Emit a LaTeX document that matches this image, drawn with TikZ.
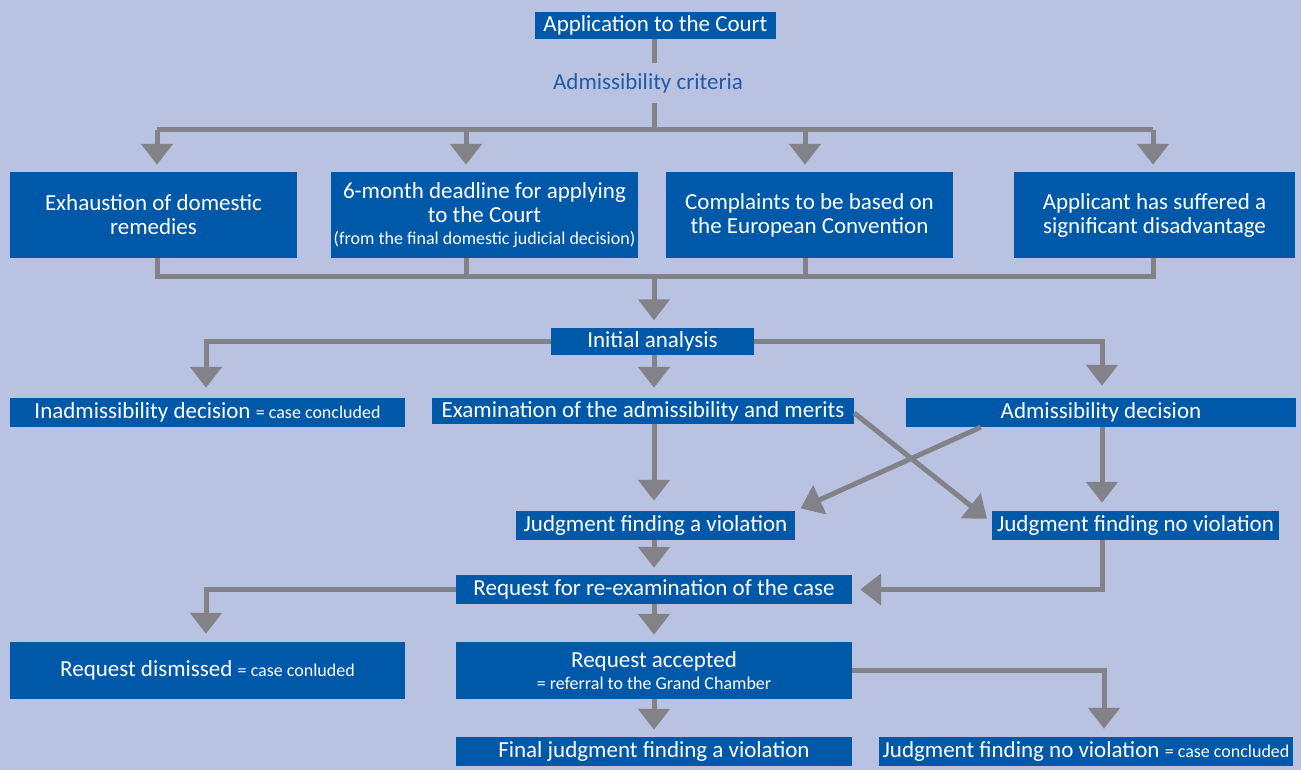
\documentclass[tikz,border=0pt]{standalone}
\usepackage{fontspec}
\setmainfont{Carlito}
\usepackage{tikz}
\usetikzlibrary{arrows.meta,positioning}
\definecolor{bgblue}{RGB}{185,195,225}
\definecolor{boxblue}{RGB}{0,88,168}
\definecolor{arrowgray}{RGB}{130,131,136}
\definecolor{critblue}{RGB}{30,92,170}
\newcommand{\concl}[1]{{\fontsize{18}{19}\selectfont #1}}

\begin{document}
\begin{tikzpicture}[x=1pt, y=-1pt, >={Triangle[width=31pt,length=21pt]}]
    \tikzstyle{box}=[fill=boxblue, text=white, inner sep=0pt, align=center, font=\fontsize{23}{24}\selectfont, minimum height=29pt]
    \tikzstyle{line}=[draw=arrowgray, line width=5pt]
    \tikzstyle{arrow}=[line, ->, shorten >=7pt]

    \fill[bgblue] (0,0) rectangle (1301,770);
    \useasboundingbox (0,0) rectangle (1301,770);

    \node[box, minimum width=241pt, minimum height=27pt] (app) at (655.5,25.5) {Application to the Court};
    \node[text=critblue, font=\fontsize{23}{24}\selectfont, minimum height=39pt, inner sep=0pt] (crit) at (648,83) {Admissibility criteria};

    \node[box, minimum width=287pt, minimum height=86pt] (exh) at (153.5,215) {Exhaustion of domestic\\remedies};
    \node[box, minimum width=307pt, minimum height=86pt] (deadline) at (484.5,215) {6-month deadline for applying\\to the Court\\[-2pt]{\fontsize{18}{19}\selectfont (from the final domestic judicial decision)}};
    \node[box, minimum width=287pt, minimum height=86pt] (compl) at (809.5,215) {Complaints to be based on\\the European Convention};
    \node[box, minimum width=281pt, minimum height=86pt] (disadv) at (1154.5,215) {Applicant has suffered a\\significant disadvantage};

    \node[box, minimum width=203pt, minimum height=27pt] (init) at (652.5,341) {Initial analysis};
    \node[box, minimum width=395pt] (inadm) at (207.5,412.5) {Inadmissibility decision \concl{= case concluded}};
    \node[box, minimum width=422pt, minimum height=26pt] (exam) at (643,411) {Examination of the admissibility and merits};
    \node[box, minimum width=390pt] (admdec) at (1101,412.5) {Admissibility decision};

    \node[box, minimum width=279pt] (jviol) at (655.5,525.5) {Judgment finding a violation};
    \node[box, minimum width=287pt] (jnoviol) at (1135.5,525.5) {Judgment finding no violation};

    \node[box, minimum width=396pt] (reqre) at (654,589.5) {Request for re-examination of the case};
    \node[box, minimum width=395pt, minimum height=57pt] (reqdis) at (207.5,670.5) {Request dismissed \concl{= case conluded}};
    \node[box, minimum width=396pt, minimum height=57pt] (reqacc) at (654,670.5) {Request accepted\\[-2pt]\concl{= referral to the Grand Chamber}};
    \node[box, minimum width=396pt] (final) at (654,751.5) {Final judgment finding a violation};
    \node[box, minimum width=414pt] (jnocon) at (1086,751.5) {Judgment finding no violation \concl{= case concluded}};

    \coordinate (topbus) at (654,130);
    \coordinate (lowbus) at (654,276);

    \draw[line] (app.south -| topbus) -- (crit.north -| topbus);
    \draw[line] (crit.south -| topbus) -- (topbus);
    \draw[line] (157,130) -- (1153,130);
    \draw[arrow] (157,130) -- (exh.north -| 157,0);
    \draw[arrow] (466,130) -- (deadline.north -| 466,0);
    \draw[arrow] (805,130) -- (compl.north -| 805,0);
    \draw[arrow] (1153,130) -- (disadv.north -| 1153,0);

    \draw[line] (exh.south -| 157,0) -- (157,276) -- (1153,276) -- (disadv.south -| 1153,0);
    \draw[line] (deadline.south -| 466,0) -- (466,276);
    \draw[line] (compl.south -| 805,0) -- (805,276);
    \draw[arrow] (lowbus) -- (init.north -| lowbus);

    \draw[arrow, shorten >=10pt] (init.west) -| (inadm.north -| 206,0);
    \draw[arrow, shorten >=10pt] (init.south -| lowbus) -- (exam.north -| lowbus);
    \draw[arrow, shorten >=12pt] (init.east) -| (admdec.north -| 1102,0);

    \draw[arrow, shorten >=10pt] (exam.south -| lowbus) -- (jviol.north -| lowbus);
    \draw[arrow, shorten >=8pt] (admdec.south -| 1102,0) -- (jviol.north -| 1102,0);
    \draw[arrow, shorten >=6pt] ([xshift=75pt]admdec.south west) -- (jviol.north east);
    \draw[arrow, shorten >=6pt] ([yshift=-2pt]exam.east) -- ([yshift=3pt]jnoviol.west);

    \draw[arrow] (jviol.south -| lowbus) -- (reqre.north -| lowbus);
    \draw[arrow, shorten >=8pt] (jnoviol.south -| 1102,0) |- (reqre.east);
    \draw[arrow, shorten >=8pt] (reqre.west) -| (reqdis.north -| 206,0);
    \draw[arrow] (reqre.south -| lowbus) -- (reqacc.north -| lowbus);
    \draw[arrow] (reqacc.south -| lowbus) -- (final.north -| lowbus);
    \draw[arrow, shorten >=8pt] (reqacc.east) -| (jnocon.north -| 1104,0);
\end{tikzpicture}
\end{document}
